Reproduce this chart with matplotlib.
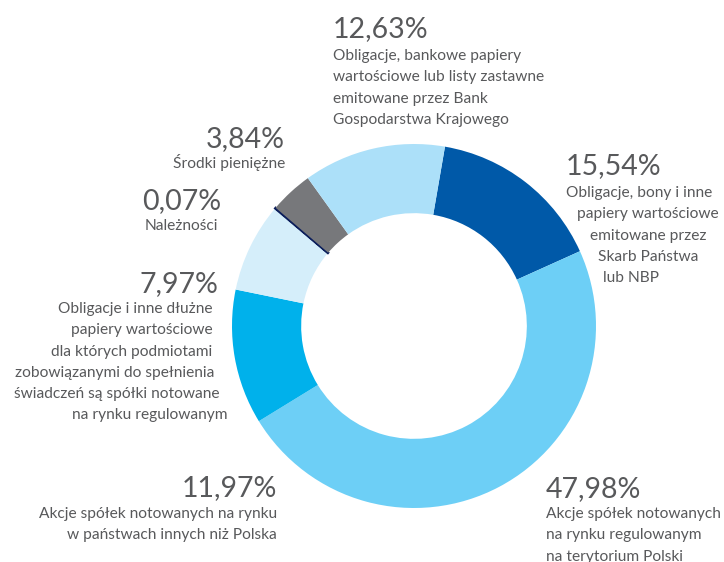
import matplotlib.pyplot as plt

# portfolio structure, clockwise from the top
shares = [15.54, 47.98, 11.97, 7.97, 0.07, 3.84, 12.63]
colors = ['#0059a8', '#6dcff6', '#00b1eb', '#d5eefa', '#0b1e5b', '#77787b', '#ace0f9']
descriptions = [
    ['Obligacje, bony i inne', 'papiery wartościowe', 'emitowane przez', 'Skarb Państwa', 'lub NBP'],
    ['Akcje spółek notowanych', 'na rynku regulowanym', 'na terytorium Polski'],
    ['Akcje spółek notowanych na rynku', 'w państwach innych niż Polska'],
    ['Obligacje i inne dłużne', 'papiery wartościowe', 'dla których podmiotami',
     'zobowiązanymi do spełnienia', 'świadczeń są spółki notowane', 'na rynku regulowanym'],
    ['Należności'],
    ['Środki pieniężne'],
    ['Obligacje, bankowe papiery', 'wartościowe lub listy zastawne',
     'emitowane przez Bank', 'Gospodarstwa Krajowego'],
]

W, H = 724, 562
TXT = '#58595b'
plt.rcParams['font.family'] = ['Lato', 'DejaVu Sans']

fig = plt.figure(figsize=(W / 100, H / 100), dpi=100)
cx, cy, r = 414, 326, 182
ax = fig.add_axes([(cx - r) / W, (H - cy - r) / H, 2 * r / W, 2 * r / H])
wedges, _ = ax.pie(shares, colors=colors, startangle=80.2, counterclock=False,
                   wedgeprops=dict(width=0.38, linewidth=0))
# the tiny receivables slice gets an outline in its own colour so it stays visible
wedges[4].set_edgecolor(colors[4])
wedges[4].set_linewidth(1.6)
ax.set_xlim(-1, 1)
ax.set_ylim(-1, 1)
ax.set_aspect('equal')
ax.axis('off')

# label layout: percent anchor (x, baseline, ha), then line x positions and first baseline
layout = [
    ((566, 174, 'left'), [566, 577, 590, 598, 603], 197, 'left'),
    ((546, 497, 'left'), [546, 546, 546], 518, 'left'),
    ((277, 496, 'right'), [277, 277], 518, 'right'),
    ((218, 292, 'right'), [213, 213, 212, 214, 220, 227], 313, 'right'),
    ((221, 209, 'right'), [218], 230, 'right'),
    ((285, 147, 'right'), [285], 168, 'right'),
    ((333, 37, 'left'), [333, 333, 333, 333], 60, 'left'),
]
step = 21.3


def px(x, y):
    return x / W, 1 - y / H


for v, lines, (pct, xs, y0, ha) in zip(shares, descriptions, layout):
    label = f'{v:.2f}'.replace('.', ',') + '%'
    fig.text(*px(pct[0], pct[1]), label, ha=pct[2], va='baseline',
             fontsize=20.5, color=TXT)
    for i, (line, x) in enumerate(zip(lines, xs)):
        fig.text(*px(x, y0 + i * step), line, ha=ha, va='baseline',
                 fontsize=11.2, color=TXT)

fig.savefig('out.png', dpi=100)
